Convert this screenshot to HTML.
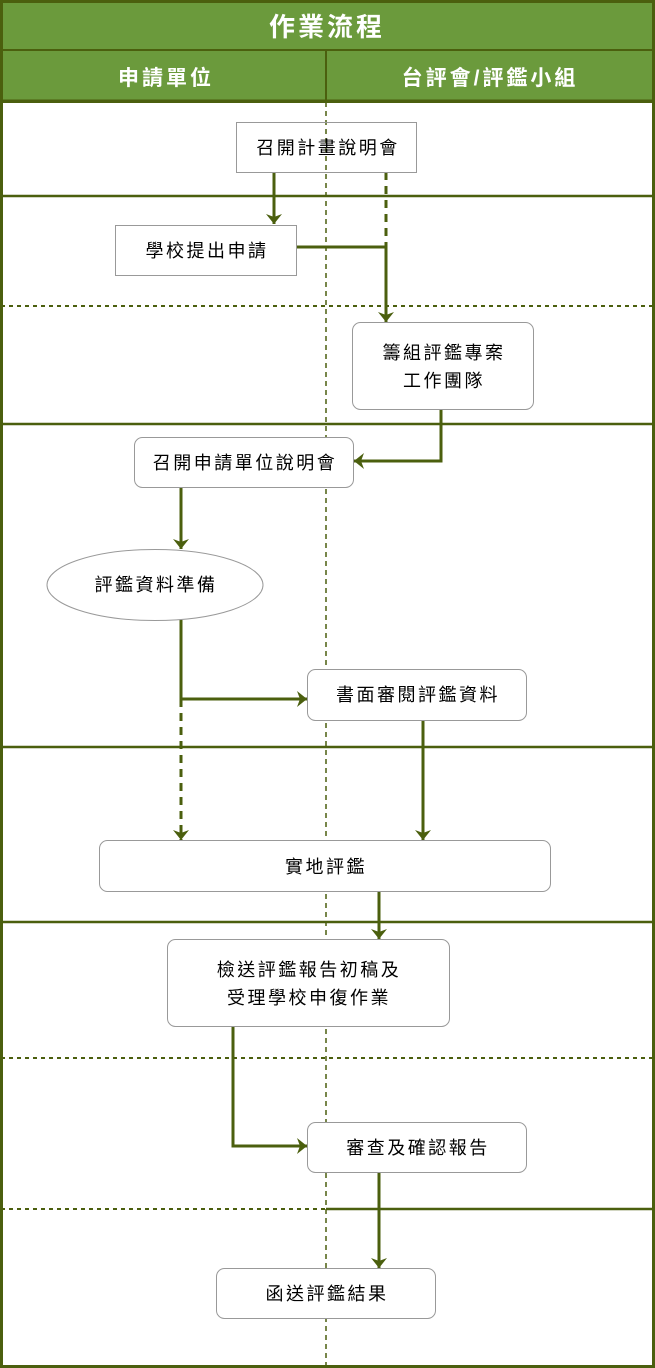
<!DOCTYPE html>
<html><head><meta charset="utf-8"><style>
html,body{margin:0;padding:0;background:#fff}
svg{display:block}
text{font-family:"Liberation Sans","Noto Sans CJK TC",sans-serif}
</style></head><body>
<svg width="655" height="1368" viewBox="0 0 655 1368" xmlns="http://www.w3.org/2000/svg">
<defs>
<marker id="b" viewBox="0 0 10 16" refX="10" refY="8" markerWidth="10" markerHeight="16" orient="auto" markerUnits="userSpaceOnUse"><path d="M0,0 L10,8 L0,16 L3,8 Z" fill="#4b5f0e"/></marker>
</defs>
<rect x="0" y="0" width="655" height="1368" fill="#fff"/>
<rect x="1.5" y="1.5" width="652" height="100" fill="#6b9a3c" stroke="#4b5f0e" stroke-width="3"/>
<line x1="1" y1="50" x2="654" y2="50" stroke="#4b5f0e" stroke-width="2"/>
<line x1="326" y1="50" x2="326" y2="102" stroke="#4b5f0e" stroke-width="2"/>
<text x="327" y="36" font-size="26" font-weight="bold" fill="#fff" text-anchor="middle" letter-spacing="3">作業流程</text>
<text x="166" y="85" font-size="21" font-weight="bold" fill="#fff" text-anchor="middle" letter-spacing="3">申請單位</text>
<text x="490" y="85" font-size="21" font-weight="bold" fill="#fff" text-anchor="middle" letter-spacing="3">台評會/評鑑小組</text>
<rect x="1.5" y="101" width="652" height="1265.5" fill="none" stroke="#4b5f0e" stroke-width="3"/>
<g stroke="#4b5f0e" stroke-width="2.5">
<line x1="1" y1="196" x2="654" y2="196"/>
<line x1="1" y1="424" x2="654" y2="424"/>
<line x1="1" y1="747" x2="654" y2="747"/>
<line x1="1" y1="922" x2="654" y2="922"/>
<line x1="326" y1="1209" x2="654" y2="1209"/>
</g>
<g stroke="#4b5f0e" stroke-width="2" stroke-dasharray="4,4">
<line x1="1" y1="306" x2="654" y2="306"/>
<line x1="1" y1="1058" x2="654" y2="1058"/>
<line x1="1" y1="1209" x2="326" y2="1209"/>
</g>
<line x1="326" y1="102" x2="326" y2="1366" stroke="#4b5f0e" stroke-width="1.5" stroke-dasharray="5,4"/>
<g stroke="#4b5f0e" stroke-width="3" fill="none">
<path d="M274,172 V224" marker-end="url(#b)"/>
<path d="M386,172 V247" stroke-dasharray="8,6"/>
<path d="M296,247 H386 V322" marker-end="url(#b)"/>
<path d="M441,409 V461 H354" marker-end="url(#b)"/>
<path d="M181,487 V549" marker-end="url(#b)"/>
<path d="M181,620 V699 H307" marker-end="url(#b)"/>
<path d="M181,699 V840" stroke-dasharray="8,6" marker-end="url(#b)"/>
<path d="M423,720 V840" marker-end="url(#b)"/>
<path d="M379,891 V939" marker-end="url(#b)"/>
<path d="M233,1026 V1146 H307" marker-end="url(#b)"/>
<path d="M379,1172 V1268" marker-end="url(#b)"/>
</g>
<g stroke="#999" stroke-width="1" fill="#fff">
<rect x="236.5" y="122.5" width="180" height="50" fill="none"/>
<rect x="115.5" y="225.5" width="181" height="50"/>
<rect x="352.5" y="322.5" width="181" height="87" rx="8"/>
<rect x="134.5" y="437.5" width="219" height="50" rx="8"/>
<ellipse cx="155" cy="585" rx="108" ry="35.5"/>
<rect x="307.5" y="669.5" width="219" height="51" rx="8"/>
<rect x="99.5" y="840.5" width="451" height="51" rx="8"/>
<rect x="167.5" y="939.5" width="282" height="87" rx="8"/>
<rect x="307.5" y="1122.5" width="219" height="50" rx="8"/>
<rect x="216.5" y="1268.5" width="219" height="50" rx="8"/>
</g>
<g font-size="18" fill="#000" text-anchor="middle" letter-spacing="2.5">
<text x="328" y="154">召開計畫說明會</text>
<text x="207" y="257">學校提出申請</text>
<text x="444" y="359">籌組評鑑專案</text>
<text x="444" y="387">工作團隊</text>
<text x="245" y="469">召開申請單位說明會</text>
<text x="156" y="591">評鑑資料準備</text>
<text x="418" y="701">書面審閱評鑑資料</text>
<text x="326" y="873">實地評鑑</text>
<text x="309" y="976">檢送評鑑報告初稿及</text>
<text x="309" y="1004">受理學校申復作業</text>
<text x="418" y="1154">審查及確認報告</text>
<text x="327" y="1300">函送評鑑結果</text>
</g>
</svg>
</body></html>
